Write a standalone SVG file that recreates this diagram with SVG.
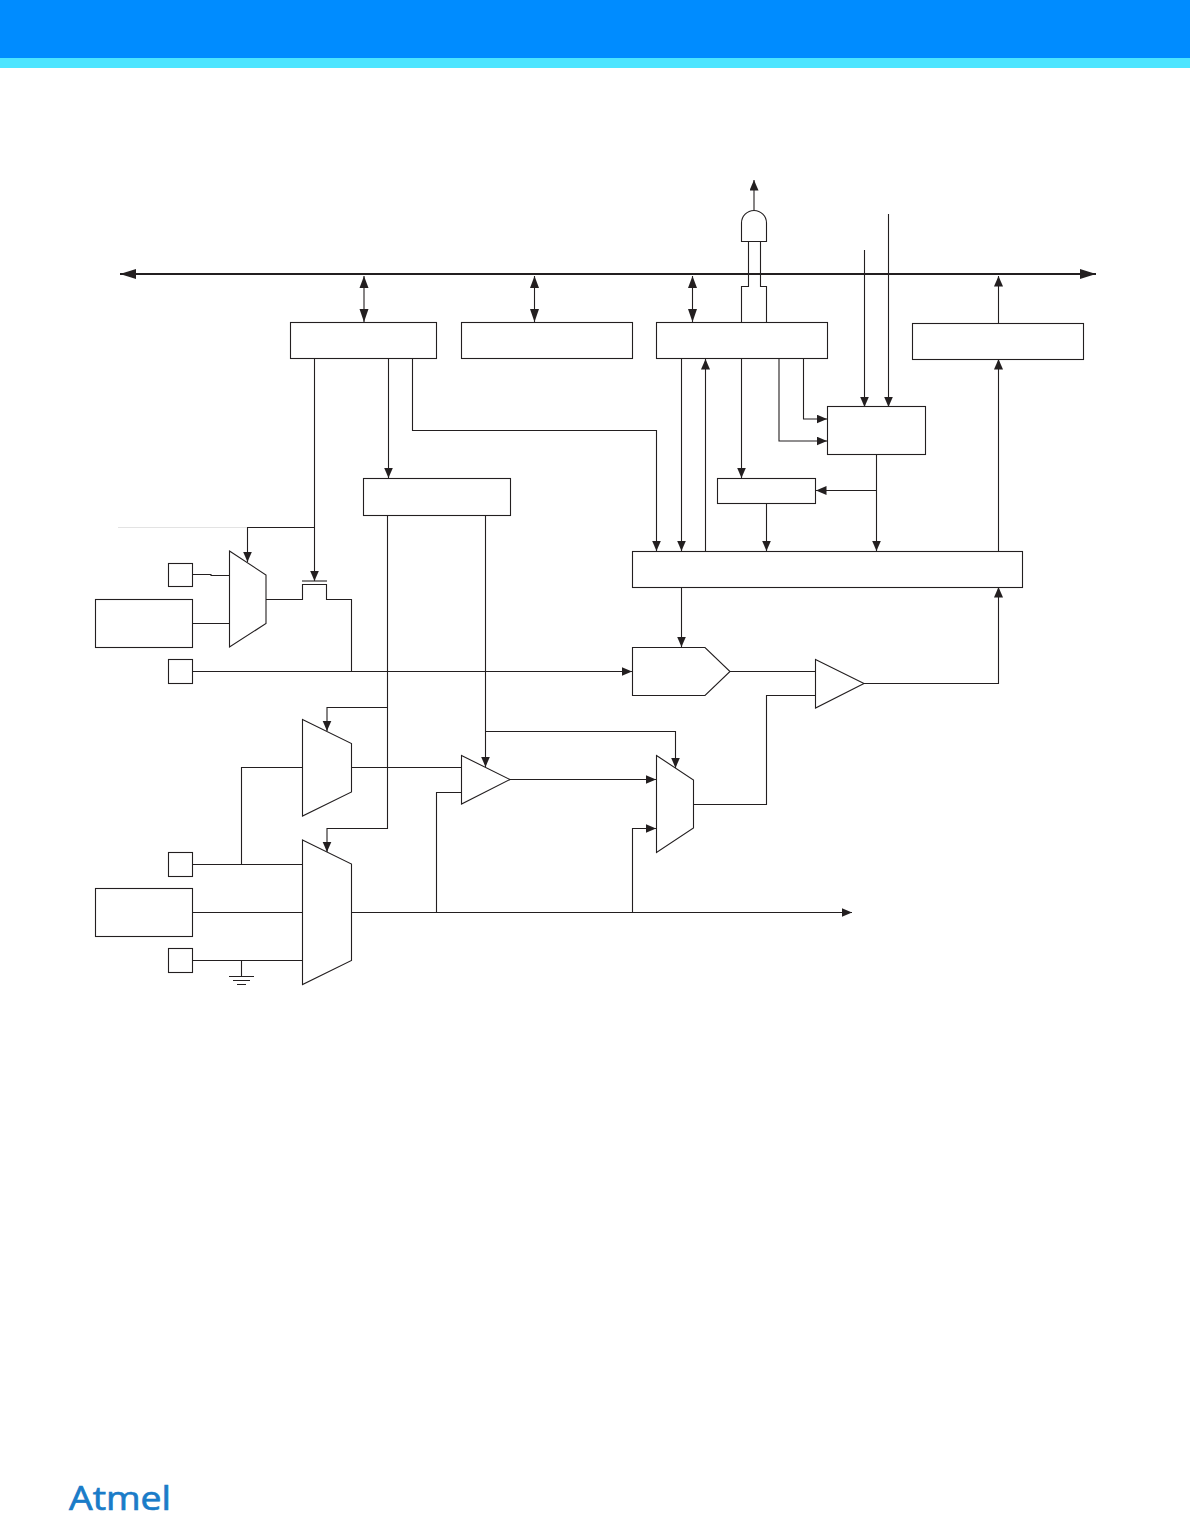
<svg xmlns="http://www.w3.org/2000/svg" width="1190" height="1513" viewBox="0 0 1190 1513">
<style>
.n{fill:#fff;stroke:#231f20;stroke-width:1.1}
.c{fill:none;stroke:#231f20;stroke-width:1.1}
.a{marker-end:url(#ah)}
.b{marker-start:url(#as);marker-end:url(#ae)}
.bus{fill:none;stroke:#231f20;stroke-width:2;marker-start:url(#bs);marker-end:url(#be)}
</style>
<defs>
<marker id="ah" markerUnits="userSpaceOnUse" markerWidth="11" markerHeight="10" refX="10.500" refY="4.500" orient="auto"><path d="M0 0L10.500 4.500L0 9z" fill="#231f20"/></marker>
<marker id="ae" markerUnits="userSpaceOnUse" markerWidth="14" markerHeight="10" refX="13" refY="4.500" orient="auto"><path d="M0 0L13 4.500L0 9z" fill="#231f20"/></marker>
<marker id="as" markerUnits="userSpaceOnUse" markerWidth="14" markerHeight="10" refX="0" refY="4.500" orient="auto"><path d="M12 0L0 4.500L12 9z" fill="#231f20"/></marker>
<marker id="be" markerUnits="userSpaceOnUse" markerWidth="17" markerHeight="11" refX="16" refY="5.500" orient="auto"><path d="M0 .5L16 5.500L0 10.500z" fill="#231f20"/></marker>
<marker id="bs" markerUnits="userSpaceOnUse" markerWidth="17" markerHeight="11" refX="0" refY="5.500" orient="auto"><path d="M16 .5L0 5.500L16 10.500z" fill="#231f20"/></marker>
</defs>
<g id="header"><rect x="0" y="0" width="1190" height="58" fill="#008cff"/><rect x="0" y="58" width="1190" height="10" fill="#4de5ff"/></g>
<g id="connectors">
<path class="bus" d="M120 274H1096"/>
<path class="c b" d="M364 276V322"/>
<path class="c b" d="M534.500 276V322"/>
<path class="c b" d="M692.500 276V322"/>
<path class="c a" d="M998.500 323V276"/>
<path class="c a" d="M754 210V180"/>
<path class="c" d="M748.500 241V286.500H741.500V322"/>
<path class="c" d="M760.500 241V286.500H766.500V322"/>
<path class="c a" d="M864.500 250V407"/>
<path class="c a" d="M888.500 214V407"/>
<path class="c a" d="M681.500 358V551"/>
<path class="c a" d="M705.500 551V359"/>
<path class="c a" d="M741.500 358V478"/>
<path class="c a" d="M779 358V441H827"/>
<path class="c a" d="M803.500 358V419H827"/>
<path class="c a" d="M766.500 503V551"/>
<path class="c a" d="M876.500 454V551"/>
<path class="c a" d="M876.500 490.500H816"/>
<path class="c a" d="M998.500 551V359"/>
<path class="c a" d="M864 683.500H998.500V587"/>
<path class="c a" d="M314.500 358V581"/>
<path class="c a" d="M314.500 527.500H247.500V562"/>
<path d="M118 527.500H247" fill="none" stroke="#e3e3e3" stroke-width="1"/>
<path class="c a" d="M388.500 358V478"/>
<path class="c a" d="M412.500 358V430.500H656.500V551"/>
<path class="c a" d="M387.500 515V828.500H327V852"/>
<path class="c a" d="M387.500 707.500H327V731"/>
<path class="c a" d="M485.500 515V767"/>
<path class="c a" d="M485.500 731.500H675.500V768"/>
<path class="c" d="M192.500 574.500H211V575.500H229.500"/>
<path class="c" d="M192.500 623.500H229.500"/>
<path class="c" d="M266 599.500H302.500V584.500H326.500V599.500H351.500V671.500"/>
<path class="c" d="M302 581H327"/>
<path class="c a" d="M192.500 671.500H632"/>
<path class="c a" d="M681.500 587V647"/>
<path class="c" d="M730 671.500H815"/>
<path class="c" d="M693.500 804.500H766.500V695.500H815"/>
<path class="c a" d="M510 779.500H656"/>
<path class="c a" d="M632.500 912V828.500H656"/>
<path class="c" d="M351.500 767.500H461"/>
<path class="c" d="M436.500 912V792.500H461"/>
<path class="c" d="M241.500 864V767.500H302.500"/>
<path class="c" d="M192.500 864.500H302.500"/>
<path class="c" d="M192.500 912.500H302.500"/>
<path class="c" d="M192.500 960.500H302.500"/>
<path class="c" d="M241.500 960.500V976M229 976.500H254M233 980.500H250M237 984.500H246"/>
<path class="c a" d="M351.500 912.500H852"/>
</g>
<g id="and-gate"><path class="n" d="M741.500 241.500V223A12.500 12.500 0 0 1 766.500 223V241.500Z"/></g>
<g id="box-a"><rect class="n" x="290.500" y="322.500" width="146" height="36"/></g>
<g id="box-b"><rect class="n" x="461.500" y="322.500" width="171" height="36"/></g>
<g id="box-c"><rect class="n" x="656.500" y="322.500" width="171" height="36"/></g>
<g id="box-d"><rect class="n" x="912.500" y="323.500" width="171" height="36"/></g>
<g id="box-e"><rect class="n" x="827.500" y="406.500" width="98" height="48"/></g>
<g id="box-f"><rect class="n" x="717.500" y="478.500" width="98" height="25"/></g>
<g id="box-g"><rect class="n" x="363.500" y="478.500" width="147" height="37"/></g>
<g id="box-h"><rect class="n" x="632.500" y="551.500" width="390" height="36"/></g>
<g id="pin-1"><rect class="n" x="168.500" y="563.500" width="24" height="23"/></g>
<g id="box-i"><rect class="n" x="95.500" y="599.500" width="97" height="48"/></g>
<g id="pin-2"><rect class="n" x="168.500" y="659.500" width="24" height="24"/></g>
<g id="mux-1"><path class="n" d="M229.500 551L266 575V623.500L229.500 647Z"/></g>
<g id="adc"><path class="n" d="M632.500 647.500H705L730 671.500L705 695.500H632.500Z"/></g>
<g id="comp-1"><path class="n" d="M815.500 659.500L864 683.500L815.500 708Z"/></g>
<g id="mux-2"><path class="n" d="M656.500 755.500L693.500 780V828L656.500 852.500Z"/></g>
<g id="comp-2"><path class="n" d="M461.500 755.500L510 779.500L461.500 804Z"/></g>
<g id="mux-3"><path class="n" d="M302.500 719.500L351.500 743.500V792L302.500 816Z"/></g>
<g id="mux-4"><path class="n" d="M302.500 840L351.500 864V960.500L302.500 984.500Z"/></g>
<g id="pin-3"><rect class="n" x="168.500" y="852.500" width="24" height="24"/></g>
<g id="box-j"><rect class="n" x="95.500" y="888.500" width="97" height="48"/></g>
<g id="pin-4"><rect class="n" x="168.500" y="948.500" width="24" height="24"/></g>
<g id="logo"><text x="69" y="1509.500" font-family="'Open Sans','Liberation Sans',sans-serif" font-size="33.500" fill="#1a7cc8" stroke="#1a7cc8" stroke-width=".7" textLength="102" lengthAdjust="spacingAndGlyphs">Atmel</text></g>
</svg>
